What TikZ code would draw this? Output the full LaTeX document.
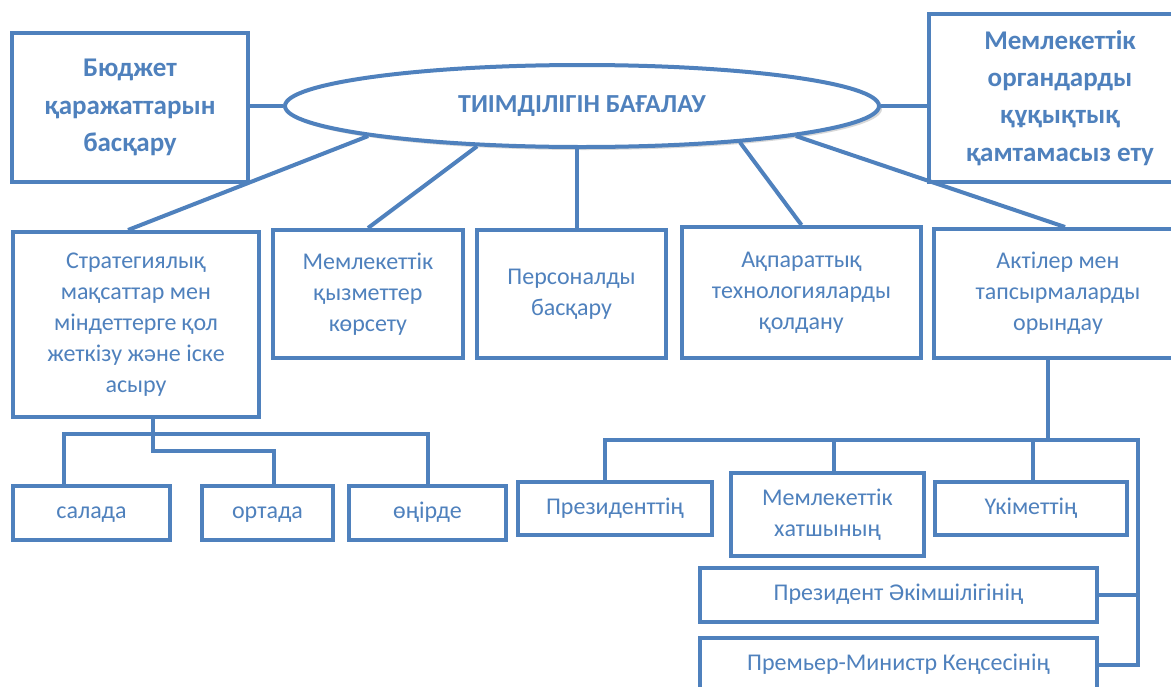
\documentclass[tikz,border=0pt]{standalone}
\usepackage{fontspec}
\setmainfont{Carlito}
\usetikzlibrary{shapes,shadows}
\definecolor{blu}{RGB}{79,129,189}

\begin{document}
\begin{tikzpicture}[x=0.5pt,y=-0.5pt,
	box/.style={draw=blu,line width=2pt,text=blu,align=center,inner sep=0pt,font=\fontsize{12}{15.5}\selectfont},
	bigbox/.style={box,font=\fontsize{13.5}{18.6}\selectfont\bfseries},
	leaf/.style={box,text height=8pt,text depth=2.5pt},
	link/.style={draw=blu,line width=2pt}]
	\useasboundingbox (0,0) rectangle (1171,686);
	\fill[white] (0,0) rectangle (1171,686);
	\clip (0,0) rectangle (1171,686);

	\node[ellipse,draw=blu,line width=2pt,fill=white,inner sep=0pt,
		drop shadow={opacity=0.3,shadow xshift=1.5pt,shadow yshift=-1.5pt},
		minimum width=297pt,minimum height=41pt,text=blu,
		font=\fontsize{13}{16}\selectfont\bfseries]	(ell)	at (582,106)	{ТИІМДІЛІГІН БАҒАЛАУ};
	\node[bigbox,minimum width=118pt,minimum height=74.5pt]	(budget)	at (130,107.5)	{Бюджет\\қаражаттарын\\басқару};
	\node[bigbox,minimum width=131pt,minimum height=84pt]	(law)	at (1060,98)	{Мемлекеттік\\органдарды\\құқықтық\\қамтамасыз ету};

	\node[box,minimum width=123pt,minimum height=92.5pt]	(strat)	at (136,324.5)	{Стратегиялық\\мақсаттар мен\\міндеттерге қол\\жеткізу және іске\\асыру};
	\node[box,minimum width=95pt,minimum height=64pt]	(serv)	at (368,294)	{Мемлекеттік\\қызметтер\\көрсету};
	\node[box,minimum width=94.5pt,minimum height=64pt]	(staff)	at (571.5,294)	{Персоналды\\басқару};
	\node[box,minimum width=119.5pt,minimum height=65.5pt]	(it)	at (801.5,292.5)	{Ақпараттық\\технологияларды\\қолдану};
	\node[box,minimum width=124pt,minimum height=64.5pt]	(acts)	at (1058,293.5)	{Актілер мен\\тапсырмаларды\\орындау};

	\node[leaf,minimum width=78.5pt,minimum height=27pt]	(salada)	at (91.5,513)	{салада};
	\node[leaf,minimum width=65.5pt,minimum height=27pt]	(ortada)	at (267.5,513)	{ортада};
	\node[leaf,minimum width=78.5pt,minimum height=27pt]	(onirde)	at (427.5,513)	{өңірде};

	\node[leaf,minimum width=97pt,minimum height=26.5pt]	(pres)	at (615,508.5)	{Президенттің};
	\node[box,minimum width=96.5pt,minimum height=41.5pt]	(secr)	at (827.5,514.5)	{Мемлекеттік\\хатшының};
	\node[leaf,minimum width=96pt,minimum height=26.5pt]	(govt)	at (1031,508.5)	{Үкіметтің};
	\node[leaf,minimum width=198.5pt,minimum height=27pt]	(admin)	at (898.5,595)	{Президент Әкімшілігінің};
	\node[leaf,minimum width=198.5pt,minimum height=27pt]	(office)	at (898.5,665)	{Премьер-Министр Кеңсесінің};

	\path[link]
		(ell.west)	edge	(ell.west -| budget.east)
		(ell.east)	edge	(ell.east -| law.west)
		(ell.188)	edge	([xshift=-4pt]strat.north)
		(ell.201)	edge	(serv.north)
		([xshift=2.75pt]staff.north)	edge	([xshift=2.75pt]staff.north |- ell.south)
		(ell.347)	edge	(it.north)
		(ell.352)	edge	([xshift=3.5pt]acts.north)
		;

	% left branch
	\draw[link] ([xshift=8.5pt]strat.south) -- ++(0,32) -| ([xshift=3.25pt]ortada.north);
	\draw[link] ([xshift=-13.75pt]salada.north) -- ++(0,-50) -| (onirde.north);

	% right branch
	\draw[link] ([xshift=-5pt]acts.south) -- ++(0,80) coordinate (hub);
	\coordinate (rail) at ([xshift=45pt]hub);
	\draw[link] ([xshift=-5pt]pres.north) |- (rail) |- (office.east);
	\draw[link] (admin.east) -- (admin.east -| rail);
	\draw[link] ([xshift=3.25pt]secr.north) -- ([xshift=3.25pt]secr.north |- hub);
	\draw[link] ([xshift=1pt]govt.north) -- ([xshift=1pt]govt.north |- hub);
\end{tikzpicture}
\end{document}
